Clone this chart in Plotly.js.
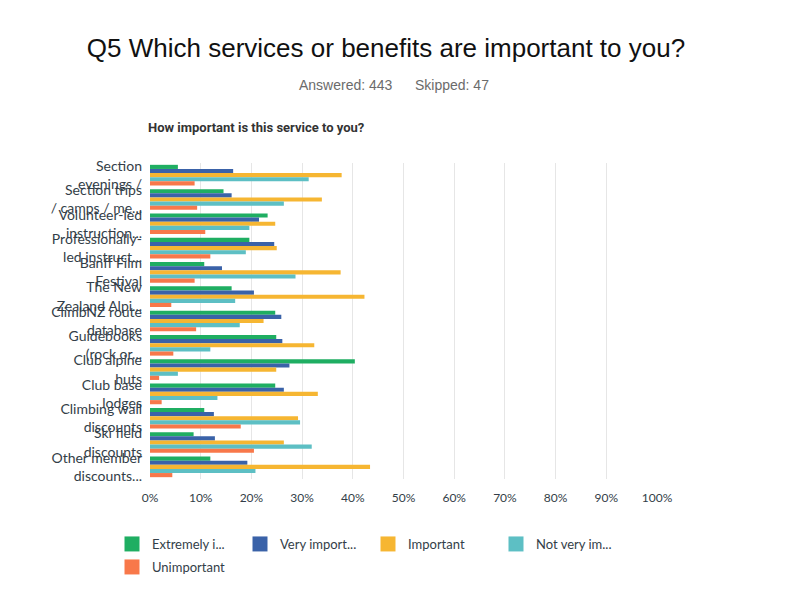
<!DOCTYPE html>
<html>
<head>
<meta charset="utf-8">
<script src="https://cdn.plot.ly/plotly-3.0.1.min.js"></script>
<style>html,body{margin:0;padding:0;background:#fff;}#chart{width:800px;height:614px;}</style>
</head>
<body>
<div id="chart"></div>
<script>
const categories = [
  "Section<br>evenings /",
  "Section trips<br>/ camps / me...",
  "Volunteer-led<br>instruction...",
  "Professionally-<br>led instruct...",
  "Banff Film<br>Festival",
  "The New<br>Zealand Alpi...",
  "ClimbNZ route<br>database",
  "Guidebooks<br>(rock or...",
  "Club alpine<br>huts",
  "Club base<br>lodges",
  "Climbing wall<br>discounts",
  "Ski field<br>discounts",
  "Other member<br>discounts..."
];
const seriesNames = ["Extremely i...", "Very import...", "Important", "Not very im...", "Unimportant"];
const extremely   = [5.5, 14.5, 23.2, 19.6, 10.7, 16.1, 24.7, 24.9, 40.4, 24.7, 10.7, 8.6, 11.9];
const very        = [16.4, 16.1, 21.5, 24.5, 14.2, 20.5, 25.9, 26.1, 27.5, 26.4, 12.6, 12.8, 19.2];
const important   = [37.8, 33.9, 24.7, 25.0, 37.6, 42.3, 22.4, 32.4, 24.9, 33.1, 29.2, 26.4, 43.4];
const notVery     = [31.3, 26.4, 19.6, 18.9, 28.7, 16.8, 17.7, 11.9, 5.5, 13.3, 29.6, 31.9, 20.8];
const unimportant = [8.8, 9.3, 10.9, 11.9, 8.8, 4.2, 9.1, 4.6, 1.8, 2.3, 17.9, 20.5, 4.4];
const xTicks = [0, 10, 20, 30, 40, 50, 60, 70, 80, 90, 100];

const colors = ["#1fae62", "#3a62a8", "#f6b632", "#5dbfc4", "#f8784a"];
const allSeries = [extremely, very, important, notVery, unimportant];

const barTraces = allSeries.map((vals, i) => ({
  type: "bar",
  orientation: "h",
  name: seriesNames[i],
  x: vals,
  y: categories,
  marker: {color: colors[i]},
  showlegend: false,
  hoverinfo: "x+name"
}));

// legend-only entries with larger square swatches
const legendTraces = seriesNames.map((nm, i) => ({
  type: "scatter",
  mode: "markers",
  name: nm,
  x: [null],
  y: [null],
  marker: {symbol: "square", size: 15, color: colors[i], line: {width: 0}},
  legend: i === 4 ? "legend2" : "legend",
  hoverinfo: "skip"
}));

const legendCommon = {
  orientation: "h",
  xanchor: "left",
  yanchor: "middle",
  font: {family: "Lato, 'Open Sans', sans-serif", size: 13, color: "#333e48"},
  entrywidth: 88,
  entrywidthmode: "pixels",
  traceorder: "normal",
  itemsizing: "trace",
  bgcolor: "rgba(0,0,0,0)"
};

const layout = {
  width: 800,
  height: 614,
  margin: {l: 150, r: 143, t: 163, b: 135},
  paper_bgcolor: "#ffffff",
  plot_bgcolor: "#ffffff",
  barmode: "group",
  bargap: 0.15,
  bargroupgap: 0,
  title: {
    text: "Q5 Which services or benefits are important to you?",
    font: {family: "'Liberation Sans', Arial, sans-serif", size: 26, color: "#111111"},
    x: 386 / 800, xanchor: "center", xref: "container",
    y: 1 - 48 / 614, yanchor: "middle", yref: "container"
  },
  xaxis: {
    range: [0, 100],
    tickvals: xTicks,
    ticktext: xTicks.map(v => v + "%"),
    showgrid: true,
    gridcolor: "#e6e6e6",
    gridwidth: 1,
    zeroline: false,
    showline: false,
    ticks: "",
    ticklabelstandoff: 10,
    tickfont: {family: "Lato, 'Open Sans', sans-serif", size: 12, color: "#333e48"},
    fixedrange: true
  },
  yaxis: {
    type: "category",
    autorange: "reversed",
    showgrid: false,
    zeroline: false,
    showline: false,
    ticks: "",
    ticklabelstandoff: 7,
    tickfont: {family: "Lato, 'Open Sans', sans-serif", size: 14, color: "#333e48"},
    fixedrange: true
  },
  legend: Object.assign({}, legendCommon, {x: (112 - 150) / 507, y: (479 - 544) / 316, entrywidth: 83}),
  legend2: Object.assign({}, legendCommon, {x: (112 - 150) / 507, y: (479 - 567) / 316}),
  annotations: [
    {
      text: "Answered: 443",
      xref: "paper", yref: "paper",
      x: (297 - 150) / 507, y: (479 - 85) / 316,
      xanchor: "left", yanchor: "middle", showarrow: false,
      font: {family: "'Liberation Sans', Arial, sans-serif", size: 14, color: "#6b6b6b"}
    },
    {
      text: "Skipped: 47",
      xref: "paper", yref: "paper",
      x: (413 - 150) / 507, y: (479 - 85) / 316,
      xanchor: "left", yanchor: "middle", showarrow: false,
      font: {family: "'Liberation Sans', Arial, sans-serif", size: 14, color: "#6b6b6b"}
    },
    {
      text: "<b>How important is this service to you?</b>",
      xref: "paper", yref: "paper",
      x: (146 - 150) / 507, y: (479 - 127) / 316,
      xanchor: "left", yanchor: "middle", showarrow: false,
      font: {family: "Roboto, 'Open Sans', sans-serif", size: 13, color: "#333333"}
    }
  ]
};

Plotly.newPlot("chart", barTraces.concat(legendTraces), layout, {displayModeBar: false, staticPlot: true});
</script>
</body>
</html>
